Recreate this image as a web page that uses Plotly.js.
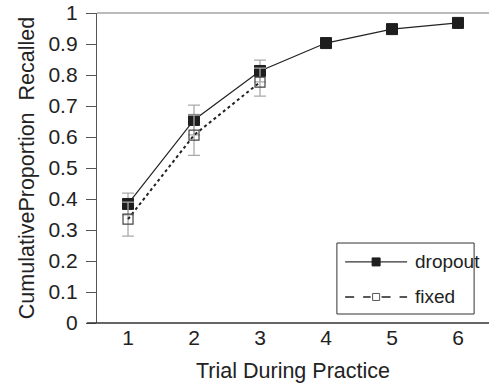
<!DOCTYPE html>
<html><head><meta charset="utf-8">
<script src="https://cdn.plot.ly/plotly-3.0.1.min.js"></script>
<style>body{margin:0;background:#fff}#c{width:489px;height:385px}</style>
</head><body><div id="c"></div>
<script>
const trials = [1, 2, 3, 4, 5, 6];
const dropout = [0.384, 0.655, 0.813, 0.903, 0.948, 0.968];
const dropoutErr = [0.035, 0.048, 0.035, 0.015, 0.015, 0.015];
const fixedTrials = [1, 2, 3];
const fixed = [0.335, 0.606, 0.777];
const fixedErr = [0.055, 0.065, 0.045];
const yTicks = [0, 0.1, 0.2, 0.3, 0.4, 0.5, 0.6, 0.7, 0.8, 0.9, 1];
const yTickText = ['0', '0.1', '0.2', '0.3', '0.4', '0.5', '0.6', '0.7', '0.8', '0.9', '1'];
const seriesNames = ['dropout', 'fixed'];

const font = 'Liberation Sans, Arial, sans-serif';
const data = [
  {x: trials, y: dropout, name: seriesNames[0], type: 'scatter', mode: 'lines+markers',
   line: {color: '#222', width: 1.2},
   marker: {symbol: 'square', size: 11, color: '#1e1e1e', line: {color: '#1e1e1e', width: 1}},
   error_y: {type: 'data', array: dropoutErr, visible: true, color: '#aaa', thickness: 1.3, width: 6}},
  {x: fixedTrials, y: fixed, name: seriesNames[1], type: 'scatter', mode: 'lines+markers',
   line: {color: '#222', width: 2, dash: 'dot'},
   marker: {symbol: 'square-open', size: 10, color: '#444', line: {color: '#444', width: 1.2}},
   error_y: {type: 'data', array: fixedErr, visible: true, color: '#aaa', thickness: 1.3, width: 6}}
];
// legend drawn as paper-space decorations
const lx0 = 0.612, lx1 = 0.962, ly0 = 0.029, ly1 = 0.258;
const row1 = 0.197, row2 = 0.084;
const sx0 = 0.633, sx1 = 0.791, sm = 0.712, tx = 0.806;
const hw = 4 / 392, hh = 4 / 310, ow = 3.5 / 392, oh = 3.5 / 310;
const layout = {
  width: 489, height: 385,
  margin: {l: 97, r: 0, t: 13, b: 62},
  paper_bgcolor: '#fff', plot_bgcolor: '#fff',
  font: {family: font, color: '#222', size: 21},
  showlegend: false,
  xaxis: {range: [0.53, 6.47], tickvals: trials, showgrid: false, zeroline: false,
          showline: false, ticks: '',
          tickfont: {size: 21}, title: {text: 'Trial During Practice', font: {size: 21.5}, standoff: 14}},
  yaxis: {range: [0, 1], tickvals: yTicks, ticktext: yTickText, showgrid: false, zeroline: false,
          showline: true, linecolor: '#555', linewidth: 1.2, ticks: 'outside', ticklen: 10, tickcolor: '#555',
          ticklabelstandoff: 4,
          tickfont: {size: 21}, title: {text: 'CumulativeProportion  Recalled', font: {size: 21.5}, standoff: 7}},
  shapes: [
    {type: 'line', xref: 'paper', yref: 'paper', x0: 0, x1: 1, y0: 1, y1: 1, line: {color: '#bbb', width: 2}},
    {type: 'line', xref: 'paper', yref: 'paper', x0: -0.026, x1: 1, y0: 0, y1: 0, line: {color: '#333', width: 1.3}},
    {type: 'rect', xref: 'paper', yref: 'paper', x0: lx0, x1: lx1, y0: ly0, y1: ly1, line: {color: '#333', width: 1}, fillcolor: '#fff'},
    {type: 'line', xref: 'paper', yref: 'paper', x0: sx0, x1: sx1, y0: row1, y1: row1, line: {color: '#333', width: 1.2}},
    {type: 'rect', xref: 'paper', yref: 'paper', x0: sm - hw, x1: sm + hw, y0: row1 - hh, y1: row1 + hh, line: {color: '#1e1e1e', width: 1}, fillcolor: '#1e1e1e'},
    {type: 'line', xref: 'paper', yref: 'paper', x0: sx0, x1: sm - ow - 0.005, y0: row2, y1: row2, line: {color: '#222', width: 1.6, dash: 'dash'}},
    {type: 'line', xref: 'paper', yref: 'paper', x0: sm + ow + 0.005, x1: sx1, y0: row2, y1: row2, line: {color: '#222', width: 1.6, dash: 'dash'}},
    {type: 'rect', xref: 'paper', yref: 'paper', x0: sm - ow, x1: sm + ow, y0: row2 - oh, y1: row2 + oh, line: {color: '#555', width: 1}, fillcolor: '#fff'}
  ],
  annotations: [
    {xref: 'paper', yref: 'paper', x: tx, y: row1, text: seriesNames[0], showarrow: false, xanchor: 'left', yanchor: 'middle', font: {size: 19, color: '#222'}},
    {xref: 'paper', yref: 'paper', x: tx, y: row2, text: seriesNames[1], showarrow: false, xanchor: 'left', yanchor: 'middle', font: {size: 19, color: '#222'}}
  ]
};
Plotly.newPlot('c', data, layout, {displayModeBar: false, staticPlot: true});
</script></body></html>
